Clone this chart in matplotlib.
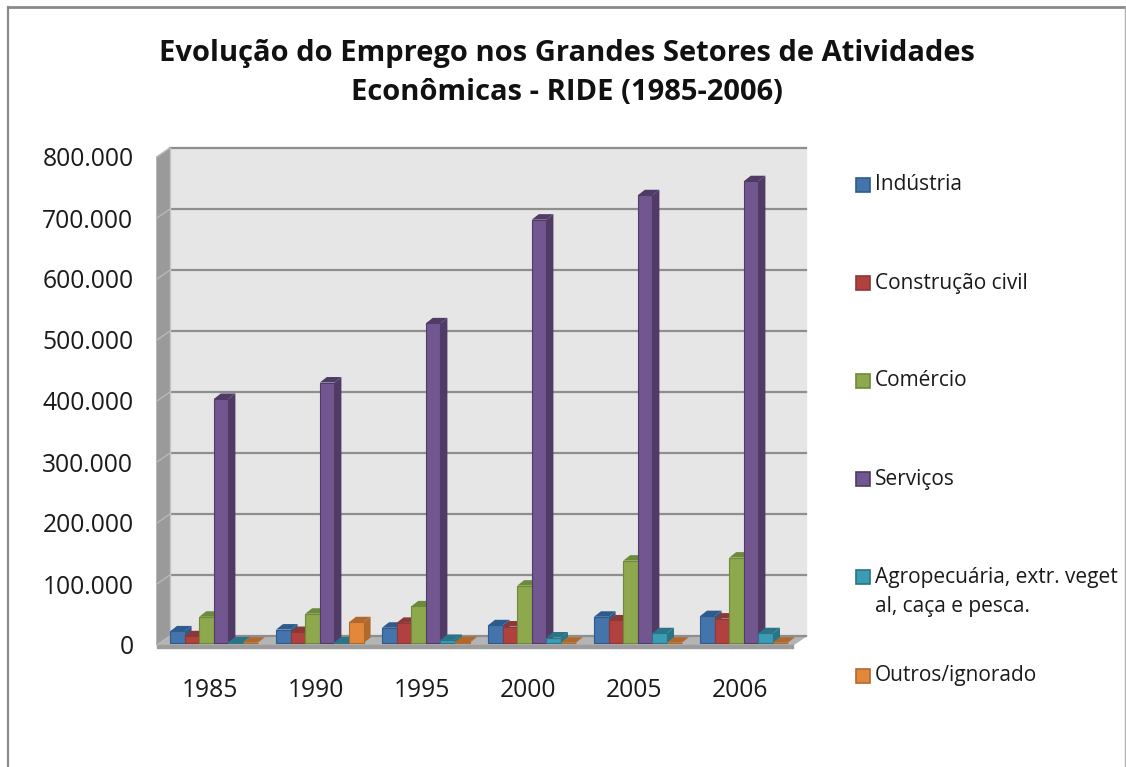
import matplotlib
matplotlib.use("Agg")
from matplotlib import pyplot as plt
from matplotlib.lines import Line2D
from matplotlib.patches import Rectangle

plt.rcParams['font.family'] = ['Open Sans', 'DejaVu Sans']

years = ['1985', '1990', '1995', '2000', '2005', '2006']
industria = [19000, 22000, 25000, 29000, 43000, 44000]
construcao = [11000, 18000, 33000, 27000, 37000, 40000]
comercio = [43000, 48000, 60000, 94000, 135000, 140000]
servicos = [400000, 427000, 524000, 694000, 734000, 757000]
agro = [1000, 1000, 5000, 9000, 16000, 16000]
outros = [500, 34000, 1500, 500, 500, 500]

series = [industria, construcao, comercio, servicos, agro, outros]
labels = ['Indústria', 'Construção civil', 'Comércio', 'Serviços',
          'Agropecuária, extr. veget\nal, caça e pesca.', 'Outros/ignorado']
front = ['#4374AB', '#B0413E', '#8DA84D', '#72568F', '#3C9BB5', '#E3873B']
side = ['#2F5A8C', '#8C3836', '#6D8A3A', '#4F3B66', '#2A7488', '#B0692C']
legend_y = [185, 283, 381, 479, 577, 676]

W, H = 1126, 767
yticks = [0, 100000, 200000, 300000, 400000, 500000, 600000, 700000, 800000]


def fx(px):
    return px / W


def fy(px):
    return 1 - px / H


fig = plt.figure(figsize=(W / 100, H / 100), dpi=100, facecolor='white')
ax = fig.add_axes([fx(157), fy(645), fx(793 - 157), (645 - 157) / H])
ax.set_xlim(0, 6)
ax.set_ylim(0, 800000)
ax.patch.set_visible(False)
for s in ax.spines.values():
    s.set_visible(False)

# scale of the axes, px to data
ux = 1 / 106
uy = 1000 / 0.61
dx = 13 * ux
dy = 9 * uy

# walls and floor
ax.fill([dx, 6 + dx, 6 + dx, dx], [dy, dy, 800000 + dy, 800000 + dy], color='#E6E6E6', zorder=1, clip_on=False)
ax.fill([0, dx, dx, 0], [0, dy, 800000 + dy, 800000], color='#9A9A9A', zorder=1, clip_on=False)
ax.fill([0, dx, 6 + dx, 6], [0, dy, dy, 0], color='#B4B4B4', zorder=1, clip_on=False)
ax.fill([0, 6, 6, 0], [0, 0, -3 * uy, -3 * uy], color='#9C9C9C', zorder=1, clip_on=False)
for t in yticks:
    ax.plot([dx, 6 + dx], [t + dy, t + dy], color='#8E8E8E', lw=1.6, zorder=2, clip_on=False)
    ax.plot([0, dx], [t, t + dy], color='#B8B8B8', lw=1, zorder=2, clip_on=False)
ax.plot([dx, dx], [dy, 800000 + dy], color='#C4C4C4', lw=1, zorder=2, clip_on=False)

# bars
w = 14.6 * ux
bdx = 7 * ux
bdy = 5.5 * uy
lift = 2 * uy
z = 3
for i in range(len(years)):
    x0 = i + dx
    for j, vals in enumerate(series):
        x = x0 + j * w
        top = lift + vals[i]
        ax.fill([x + w, x + w + bdx, x + w + bdx, x + w], [lift, lift + bdy, top + bdy, top],
                color=side[j], lw=0, zorder=z, clip_on=False)
        ax.fill([x, x + bdx, x + w + bdx, x + w], [top, top + bdy, top + bdy, top],
                color=side[j], lw=0, zorder=z, clip_on=False)
        ax.bar(x, vals[i], w, bottom=lift, align='edge', color=front[j], edgecolor=side[j],
               linewidth=0.8, zorder=z + 0.5, clip_on=False)
        z += 1

ax.set_xticks([i + 0.5 for i in range(len(years))])
ax.set_xticklabels(years)
ax.set_yticks(yticks)
ax.set_yticklabels([f'{t:,}'.replace(',', '.') for t in yticks])
ax.tick_params(length=0, labelsize=17.7, labelcolor='#1a1a1a')
ax.tick_params(axis='x', pad=24)
ax.tick_params(axis='y', pad=17)

fig.text(fx(567), fy(73), 'Evolução do Emprego nos Grandes Setores de Atividades\nEconômicas - RIDE (1985-2006)',
         ha='center', va='center', fontsize=21, fontweight='bold', color='#111111', linespacing=1.5)

# legend
for j, lab in enumerate(labels):
    y = legend_y[j]
    fig.add_artist(Rectangle((fx(856), fy(y + 7)), 14 / W, 14 / H, transform=fig.transFigure,
                             facecolor=front[j], edgecolor=side[j], lw=1.2))
    if '\n' in lab:
        fig.text(fx(875), fy(y - 10), lab, ha='left', va='top', fontsize=15, color='#1a1a1a', linespacing=1.5)
    else:
        fig.text(fx(875), fy(y), lab, ha='left', va='center', fontsize=15, color='#1a1a1a')

# outer frame of the chart
fig.add_artist(Line2D([fx(8), fx(8)], [0, fy(7)], color='#8A8A8A', lw=1.6))
fig.add_artist(Line2D([fx(8), 1], [fy(7), fy(7)], color='#8A8A8A', lw=2))
fig.add_artist(Line2D([fx(1125), fx(1125)], [fy(7), 0], color='#B0B0B0', lw=1))

fig.savefig('out.png', dpi=100)
